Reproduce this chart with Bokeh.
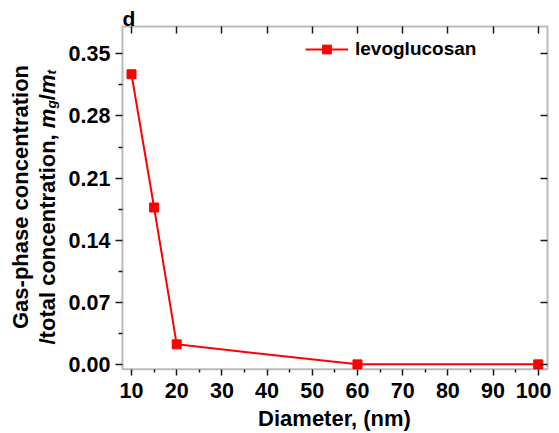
import math
from bokeh.plotting import figure
from bokeh.models import (Range1d, FixedTicker, LinearAxis, Label, Legend,
                          LegendItem, PrintfTickFormatter, BoxAnnotation)
from bokeh.embed import file_html
from bokeh.resources import INLINE

# ---------------- data ----------------
diameter_nm = [10, 15, 20, 60, 100]
levoglucosan = [0.327, 0.177, 0.023, 0.0005, 0.0005]

x_ticks = [10, 20, 30, 40, 50, 60, 70, 80, 90, 100]
x_minor = [15, 25, 35, 45, 55, 65, 75, 85, 95]
y_ticks = [0.00, 0.07, 0.14, 0.21, 0.28, 0.35]
y_minor = [0.035, 0.105, 0.175, 0.245, 0.315]

series_name = "levoglucosan"
x_title = "Diameter, (nm)"
y_title_1 = "Gas-phase concentration"
y_title_2 = "/total concentration, "
panel_tag = "d"

# axes box limits (data units)
X_LO, X_HI = 8.0, 102.06
Y_LO, Y_HI = -0.005, 0.3807

FONT = "Liberation Sans"
AX = "#1a1a1a"
RED = "#ff0000"
W, H = 551, 432

# The frame covers the whole canvas; the axes are pinned at the box edges.
p = figure(width=W, height=H, output_backend="svg", toolbar_location=None,
           x_range=Range1d(-18.99, 102.94), y_range=Range1d(-0.07619, 0.40997),
           x_axis_location=None, y_axis_location=None,
           min_border=0, min_border_left=0, min_border_right=0,
           min_border_top=0, min_border_bottom=0)
p.outline_line_color = None
p.background_fill_color = "white"
p.border_fill_color = "white"
p.grid.visible = False

def style_axis(a, labels=True):
    a.axis_line_color = None
    a.major_tick_line_color = AX
    a.minor_tick_line_color = AX
    a.major_tick_line_width = 1.5
    a.minor_tick_line_width = 1.5
    a.major_label_text_font = FONT
    a.major_label_text_font_style = "bold"
    a.major_label_text_font_size = "21.5px"
    a.major_label_text_color = "#000000" if labels else None

xa = LinearAxis(ticker=FixedTicker(ticks=x_ticks, minor_ticks=x_minor),
                fixed_location=Y_LO, bounds=(X_LO, X_HI))
style_axis(xa)
xa.major_tick_in, xa.major_tick_out = 0, 6
xa.minor_tick_in, xa.minor_tick_out = 0, 3
xa.major_label_standoff = 8
p.add_layout(xa, "below")

ya = LinearAxis(ticker=FixedTicker(ticks=y_ticks, minor_ticks=y_minor),
                formatter=PrintfTickFormatter(format="%.2f"),
                fixed_location=X_LO, bounds=(Y_LO, Y_HI))
style_axis(ya)
ya.major_tick_in, ya.major_tick_out = 0, 7
ya.minor_tick_in, ya.minor_tick_out = 0, 4
ya.major_label_standoff = 5
p.add_layout(ya, "left")

top = LinearAxis(ticker=FixedTicker(ticks=x_ticks, minor_ticks=[]),
                 fixed_location=Y_HI, bounds=(X_LO, X_HI))
style_axis(top, labels=False)
top.major_tick_in, top.major_tick_out = 7, 0
top.minor_tick_in, top.minor_tick_out = 0, 0
p.add_layout(top, "above")

right = LinearAxis(ticker=FixedTicker(ticks=y_ticks, minor_ticks=[]),
                   fixed_location=X_HI, bounds=(Y_LO, Y_HI))
style_axis(right, labels=False)
right.major_tick_in, right.major_tick_out = 7, 0
right.minor_tick_in, right.minor_tick_out = 0, 0
p.add_layout(right, "right")

# box around the plotting area
p.add_layout(BoxAnnotation(left=X_LO, right=X_HI, bottom=Y_LO, top=Y_HI,
                           fill_alpha=0, line_color=AX, line_width=2))

# ---------------- series ----------------
r_line = p.line(diameter_nm, levoglucosan, line_color=RED, line_width=2)
r_pts = p.scatter(diameter_nm, levoglucosan, marker="square", size=9,
                  fill_color=RED, line_color=RED)

legend = Legend(items=[LegendItem(label=series_name, renderers=[r_line, r_pts])],
                location=(305, H - 60), border_line_color=None,
                background_fill_alpha=0, padding=0, margin=0,
                glyph_width=43, glyph_height=22, label_height=22,
                label_standoff=7, label_text_font=FONT,
                label_text_font_style="bold", label_text_font_size="19px",
                label_text_color="#000000")
p.add_layout(legend)

# ---------------- texts (screen units, origin at canvas bottom-left) ----------------
SHIFT = 7  # compensation of the text box offset

def lab(x, y, text, size, style="bold", align="left", angle=0.0):
    if angle == 0.0:
        y = y + SHIFT
    else:
        x = x - SHIFT
    p.add_layout(Label(x=x, y=y, x_units="screen", y_units="screen", text=text,
                       text_font=FONT, text_font_style=style,
                       text_font_size=f"{size}px", text_align=align,
                       text_baseline="alphabetic", angle=angle,
                       text_color="#000000"))

lab(122, H - 25, panel_tag, 21)
lab(334, H - 425, x_title, 22, align="center")

F = 22
lab(27, H - 196.5, y_title_1, F, align="center", angle=math.pi / 2)

# second line of the y title, composed of pieces (italic m, subscripts)
em = {"/": .278, "t": .333, "o": .611, "a": .556, "l": .278, " ": .278,
      "c": .556, "n": .611, "e": .556, "r": .389, "i": .278, ",": .278,
      "m": .889, "g": .611}
def width(s, size):
    return sum(em[ch] for ch in s) * size

SUB = 0.62
bx = 54
y = H - 344
lab(bx, y, y_title_2, F, angle=math.pi / 2)
y += width(y_title_2, F)
lab(bx, y, "m", F, style="bold italic", angle=math.pi / 2)
y += width("m", F)
lab(bx + 4, y, "g", F * SUB, style="bold italic", angle=math.pi / 2)
y += width("g", F * SUB)
lab(bx, y, "/", F, angle=math.pi / 2)
y += width("/", F)
lab(bx, y, "m", F, style="bold italic", angle=math.pi / 2)
y += width("m", F)
lab(bx + 4, y, "t", F * SUB, style="bold italic", angle=math.pi / 2)

open("out.html", "w").write(file_html(p, INLINE))
